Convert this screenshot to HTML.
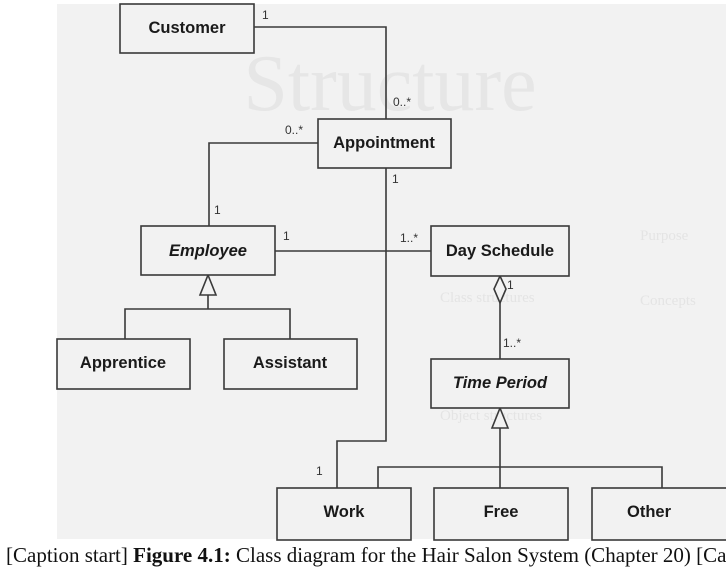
<!DOCTYPE html>
<html><head><style>
body{margin:0;width:726px;height:579px;background:#fff;overflow:hidden;position:relative}
.scan{position:absolute;left:57px;top:4px;width:669px;height:535px;background:#f2f2f2}
.cap{position:absolute;left:6px;top:543px;width:720px;overflow:hidden;font-family:"Liberation Serif",serif;font-size:21px;white-space:nowrap;color:#111}
</style></head><body>
<div class="scan"></div>
<svg width="726" height="579" style="position:absolute;left:0;top:0" font-family="Liberation Sans, sans-serif">
<text x="390" y="110" font-family="Liberation Serif, serif" font-size="80" fill="#e6e6e6" text-anchor="middle">Structure</text>
<g fill="#e4e4e4" font-family="Liberation Serif, serif" font-size="15">
<text x="640" y="240">Purpose</text><text x="640" y="305">Concepts</text>
<text x="440" y="302">Class structures</text>
<text x="440" y="420">Object structures</text>
</g>
<g stroke="#3a3a3a" stroke-width="1.6" fill="none">
<polyline points="254,27 386,27 386,119"/>
<polyline points="318,143 209,143 209,226"/>
<polyline points="386,168 386,441 337,441 337,488"/>
<line x1="275" y1="251" x2="431" y2="251"/>
<line x1="500" y1="303" x2="500" y2="359"/>
<polyline points="125,339 125,309 290,309 290,339"/>
<line x1="208" y1="295" x2="208" y2="309"/>
<polyline points="378,488 378,467 662,467 662,488"/>
<line x1="500" y1="428" x2="500" y2="488"/>
</g>
<g stroke="#3a3a3a" stroke-width="1.6" fill="#f2f2f2">
<polygon points="500,276 506,289 500,303 494,289"/>
<polygon points="208,275 216,295 200,295"/>
<polygon points="500,408 508,428 492,428"/>
<rect x="120" y="4" width="134" height="49"/>
<rect x="318" y="119" width="133" height="49"/>
<rect x="141" y="226" width="134" height="49"/>
<rect x="431" y="226" width="138" height="50"/>
<rect x="57" y="339" width="133" height="50"/>
<rect x="224" y="339" width="133" height="50"/>
<rect x="431" y="359" width="138" height="49"/>
<rect x="277" y="488" width="134" height="52"/>
<rect x="434" y="488" width="134" height="52"/>
<rect x="592" y="488" width="140" height="52"/>
</g>
<g font-size="16.5" font-weight="bold" fill="#1a1a1a" text-anchor="middle">
<text x="187" y="33">Customer</text>
<text x="384" y="148">Appointment</text>
<text x="208" y="256" font-style="italic">Employee</text>
<text x="500" y="256">Day Schedule</text>
<text x="123" y="368">Apprentice</text>
<text x="290" y="368">Assistant</text>
<text x="500" y="388" font-style="italic">Time Period</text>
<text x="344" y="517">Work</text>
<text x="501" y="517">Free</text>
<text x="649" y="517">Other</text>
</g>
<g font-size="12" fill="#333">
<text x="262" y="19">1</text>
<text x="393" y="106">0..*</text>
<text x="285" y="134">0..*</text>
<text x="392" y="183">1</text>
<text x="214" y="214">1</text>
<text x="283" y="240">1</text>
<text x="400" y="242">1..*</text>
<text x="507" y="289">1</text>
<text x="503" y="347">1..*</text>
<text x="316" y="475">1</text>
</g>
</svg>
<div class="cap">[Caption start] <b>Figure 4.1:</b> Class diagram for the Hair Salon System (Chapter 20) [Caption end]</div>
</body></html>
